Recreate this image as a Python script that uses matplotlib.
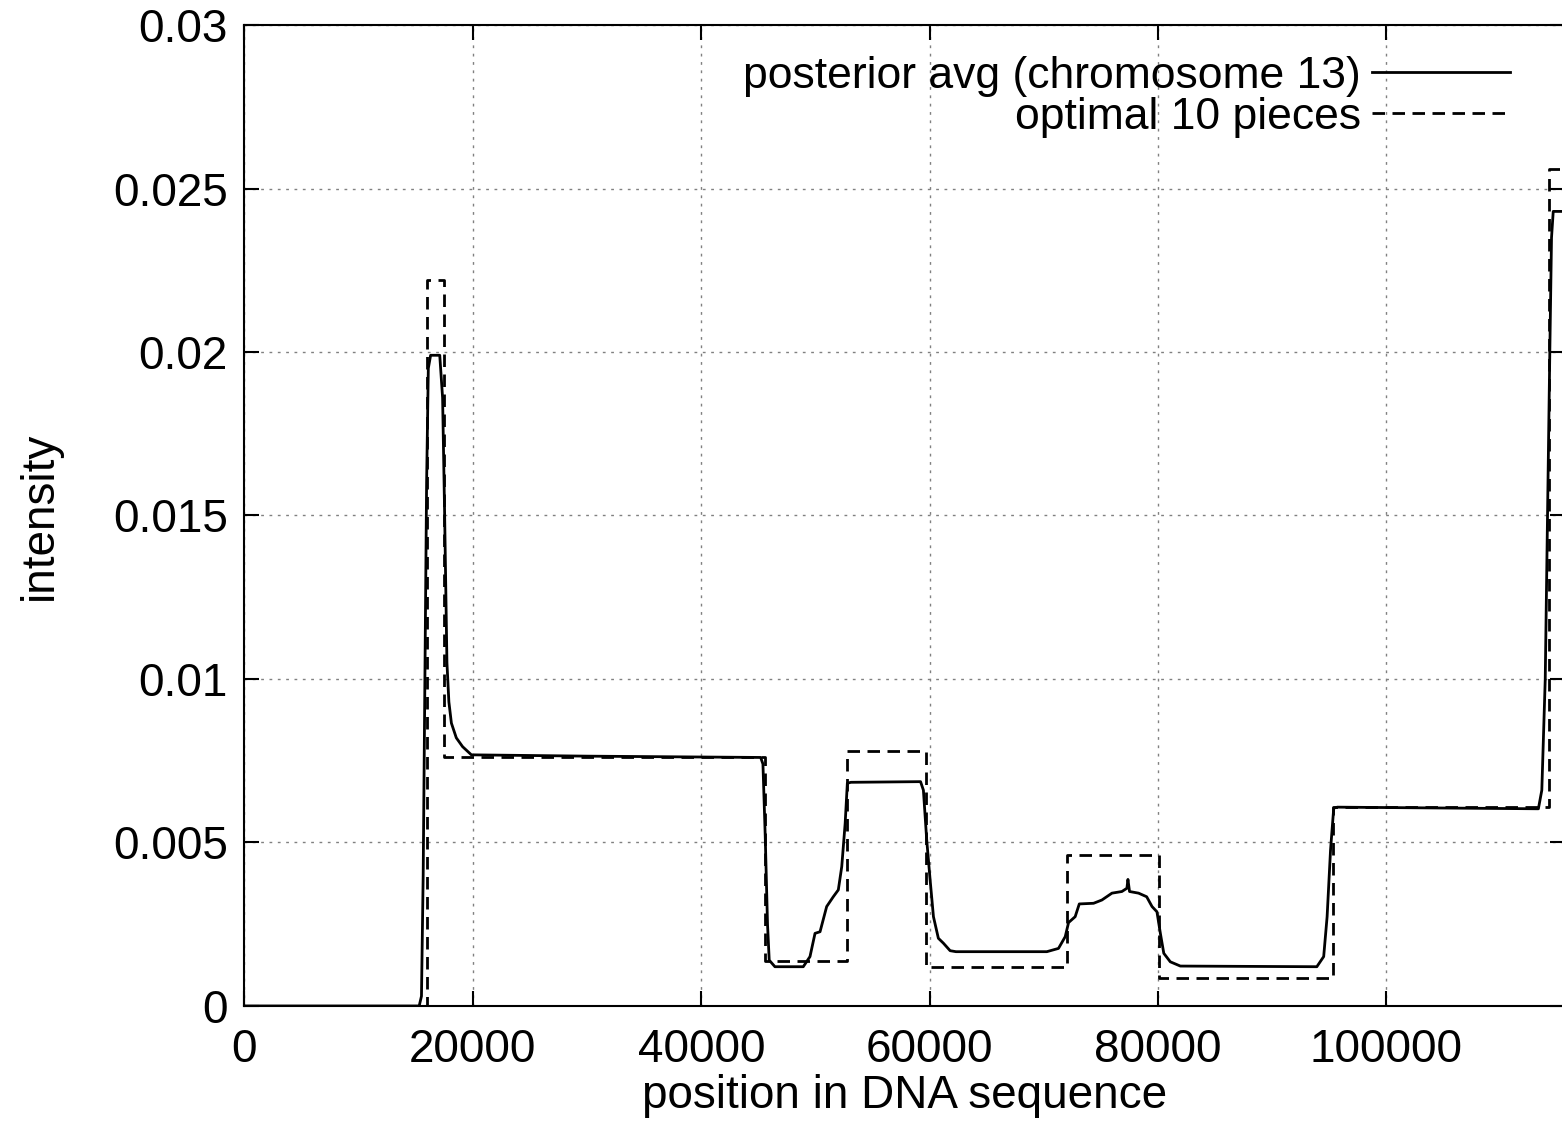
import matplotlib
matplotlib.use('Agg')
import matplotlib.pyplot as plt

plt.rcParams['font.family'] = ['Liberation Sans', 'DejaVu Sans']

# posterior average curve (position, intensity)
pos = [0, 15300, 15500, 15650, 15800, 15950, 16100, 16300, 17100, 17350, 17530,
       17730, 17900, 18120, 18550, 19100, 19870, 30000, 45200, 45400, 45600,
       45800, 45950, 46450, 48930, 49520, 49960, 50400, 50980, 51560, 52000,
       52300, 52600, 52790, 53100, 59200, 59450, 59740, 60040, 60330, 60760,
       61200, 61790, 62300, 70260, 71280, 71870, 72160, 72740, 73100, 74350,
       75080, 75960, 76830, 77270, 77360, 77500, 78290, 79000, 79470, 79900,
       80200, 80500, 81070, 81950, 93900, 94500, 94800, 95100, 95380, 95700,
       113300, 113600, 113900, 114100, 114300, 114450, 114600, 115600]
avg = [0, 0, 0.0003, 0.004, 0.010, 0.016, 0.0195, 0.0199, 0.0199, 0.0186, 0.0150,
       0.0105, 0.0093, 0.00865, 0.0082, 0.00793, 0.00768, 0.00764, 0.0076, 0.0074, 0.0052,
       0.0025, 0.0014, 0.0012, 0.0012, 0.00151, 0.00222, 0.00227, 0.00304, 0.00334, 0.00355,
       0.00426, 0.00559, 0.00681, 0.00684, 0.00686, 0.0066, 0.00508, 0.00385, 0.00273, 0.00207,
       0.00192, 0.00169, 0.00166, 0.00166, 0.00176, 0.00212, 0.00255, 0.00273, 0.00312, 0.00314,
       0.00324, 0.00345, 0.0035, 0.0036, 0.00387, 0.0035, 0.00345, 0.00334, 0.00304, 0.00288,
       0.00222, 0.00161, 0.00135, 0.00122, 0.0012, 0.00151, 0.00273, 0.00477, 0.00605, 0.00608,
       0.00603, 0.0066, 0.010, 0.015, 0.020, 0.0235, 0.0243, 0.0243]

# optimal 10 piece segmentation
breaks = [0, 16000, 17500, 45570, 52730, 59660, 72010, 80050, 95300, 114200, 115600]
levels = [0, 0.0222, 0.0076, 0.00139, 0.00781, 0.0012, 0.00462, 0.00085, 0.00608, 0.0256]

fig = plt.figure(figsize=(15.62, 11.43), dpi=100)
ax = fig.add_axes([0.1565, 0.1199, 0.8452, 0.8582])

ax.plot(pos, avg, color='black', linewidth=2.0, label='posterior avg (chromosome 13)')
ax.step(breaks, levels + [levels[-1]], where='post', color='black', linewidth=2.0,
        dashes=(4.5, 2.7), label='optimal 10 pieces')

ax.set_xlim(0, 115600)
ax.set_ylim(0, 0.03)
ax.set_xticks([0, 20000, 40000, 60000, 80000, 100000])
ax.set_xticklabels(['0', '20000', '40000', '60000', '80000', '100000'])
ax.set_yticks([0, 0.005, 0.01, 0.015, 0.02, 0.025, 0.03])
ax.set_yticklabels(['0', '0.005', '0.01', '0.015', '0.02', '0.025', '0.03'])
ax.tick_params(direction='in', length=11, width=1.5, labelsize=33,
               top=True, right=True)
ax.tick_params(axis='x', pad=16)
ax.tick_params(axis='y', pad=12)
ax.grid(True, color='gray', linestyle=(0, (2, 4)), linewidth=1.0)
for s in ax.spines.values():
    s.set_linewidth(1.5)

ax.set_xlabel('position in DNA sequence', fontsize=33, labelpad=1)
ax.set_ylabel('intensity', fontsize=33, labelpad=37)

ax.legend(loc='upper right', bbox_to_anchor=(0.9886, 1.0092), frameon=False,
          fontsize=32, markerfirst=False, handlelength=3.1, handletextpad=0.25,
          labelspacing=0.0, borderaxespad=0.6, borderpad=0.3)

fig.savefig('out.png', dpi=100)
